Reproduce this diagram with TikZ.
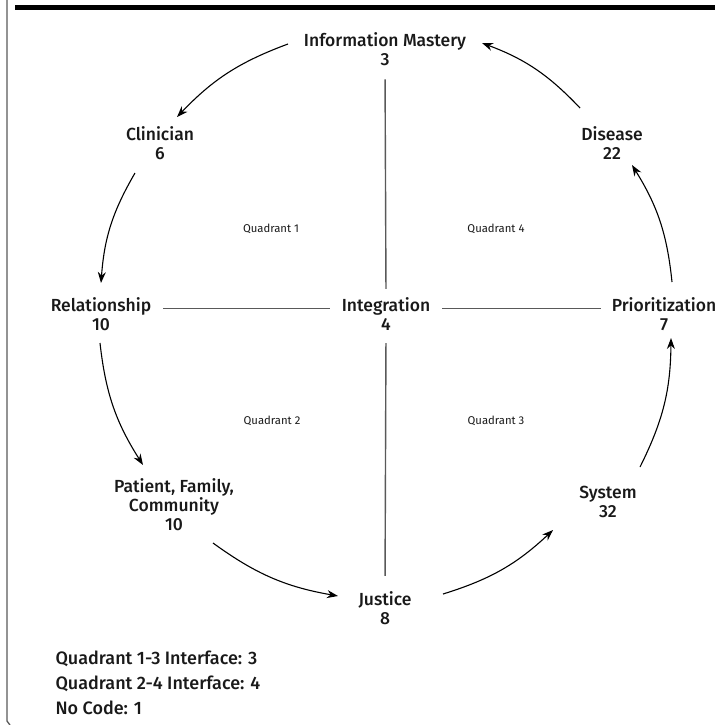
\documentclass[tikz,border=0pt]{standalone}
\usepackage{fontspec}
\setmainfont{Fira Sans}
\newfontfamily\conceptfont{Fira Sans Medium}
\usetikzlibrary{arrows.meta, calc, positioning}
\definecolor{axisgray}{gray}{0.35}
\definecolor{inkblack}{gray}{0.1}

\begin{document}
\begin{tikzpicture}[x=1pt, y=-1pt,
    concept/.style={align=center, 
      anchor=base, 
      inner sep=2pt, 
      text=inkblack, 
      font=\conceptfont\fontsize{17.5}{19}\selectfont},
    quadrant/.style={anchor=base, 
      text=inkblack, 
      font=\fontsize{11.3}{13}\selectfont},
    legend/.style={align=left, 
      anchor=base west, 
      text=inkblack, 
      font=\conceptfont\fontsize{18}{25}\selectfont},
    axis/.style={draw=axisgray, line width=1.4pt, 
      shorten <=10pt, shorten >=10pt},
    flow/.style={draw=black, line width=1.1pt, 
      -{Stealth[length=11pt, width=8pt]}, 
      bend right=13}]

  \useasboundingbox (0,0) rectangle (717,725);

% FRAME

  \draw[line width=5pt] (15,7.5) -- (715,7.5);
  \draw[axisgray, line width=1.3pt] (7,0) -- (7,721) -- (10,725);

% CONCEPTS (placed at the baseline of the last line)

  \node[concept] (infomastery) at (385,66) {Information Mastery\\3};
  \node[concept] (clinician) at (160,159) {Clinician\\6};
  \node[concept] (relationship) at (101,330) {Relationship\\10};
  \node[concept] (integration) at (386,330) {Integration\\4};
  \node[concept] (prioritization) at (664,330) {Prioritization\\7};
  \node[concept] (disease) at (612,159) {Disease\\22};
  \node[concept] (patient) at (174,530) {Patient, Family,\\Community\\10};
  \node[concept] (justice) at (385,624) {Justice\\8};
  \node[concept] (system) at (608,517) {System\\32};

% QUADRANTS

  \node[quadrant] (quad1) at (271,232) {Quadrant 1};
  \node[quadrant] (quad4) at (496,232) {Quadrant 4};
  \node[quadrant] (quad2) at (272,424) {Quadrant 2};
  \node[quadrant] (quad3) at (496,424) {Quadrant 3};

  \node[legend] (counts) at (52,714) {Quadrant 1-3 Interface: 3\\
    Quadrant 2-4 Interface: 4\\
    No Code: 1};

% AXES

  \draw[axis, shorten <=11pt, shorten >=6pt] (infomastery.south) -- (integration.north);
  \draw[axis, shorten <=11pt, shorten >=13pt] (integration.south) -- (justice.north);
  \draw[axis] ($(relationship.mid east)+(0,-19)$) -- ($(integration.mid west)+(0,-19)$);
  \draw[axis, shorten >=9pt] ($(integration.mid east)+(0,-19)$) -- ($(prioritization.mid west)+(0,-19)$);

% CYCLE

  \draw[flow] ($(infomastery.base)+(-97,-22)$) to ($(clinician.base)+(17,-42)$);
  \draw[flow] ($(clinician.base)+(-25,14)$) to ($(relationship.base)+(0,-47)$);
  \draw[flow] ($(relationship.base)+(-1,13)$) to ($(patient.base)+(-31,-65)$);
  \draw[flow] ($(patient.base)+(39,13)$) to ($(justice.base)+(-47,-28)$);
  \draw[flow] ($(justice.base)+(58,-30)$) to ($(system.base)+(-55,13)$);
  \draw[flow] ($(system.base)+(32,-50)$) to ($(prioritization.base)+(7,8)$);
  \draw[flow] ($(prioritization.base)+(8,-48)$) to ($(disease.base)+(20,6)$);
  \draw[flow] ($(disease.base)+(-32,-51)$) to ($(infomastery.base)+(97,-23)$);

\end{tikzpicture}
\end{document}
